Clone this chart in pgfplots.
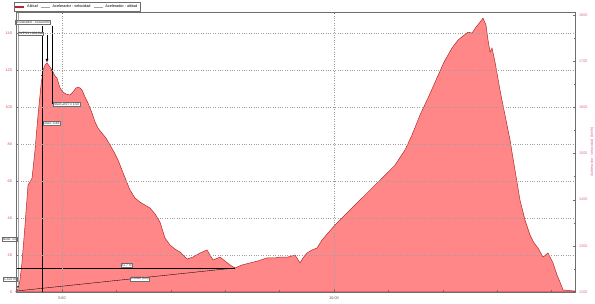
\documentclass[border=0pt]{standalone}
\usepackage{fontspec}
\setmainfont{Liberation Sans}
\usepackage{pgfplots}
\pgfplotsset{compat=1.18}
\definecolor{fillred}{RGB}{255,135,135}
\definecolor{linered}{RGB}{180,40,40}
\definecolor{leftlab}{RGB}{205,80,80}
\definecolor{rightlab}{RGB}{215,110,165}
\definecolor{axgray}{RGB}{110,110,110}
\pgfplotstableread{
m y
4.154 0.5
4.191 1.6
4.228 6.5
4.265 16.2
4.320 36.2
4.375 57.8
4.412 59.5
4.449 61.6
4.504 76.8
4.559 95.7
4.614 111.9
4.651 120.0
4.688 122.7
4.724 123.8
4.779 121.6
4.816 120.0
4.871 116.8
4.908 115.7
4.963 110.3
5.018 108.1
5.074 107.0
5.147 106.5
5.202 108.1
5.257 110.3
5.294 110.8
5.331 110.3
5.368 109.2
5.423 105.4
5.478 102.2
5.551 96.8
5.607 91.9
5.662 88.6
5.735 85.9
5.809 83.2
5.882 79.5
5.956 75.7
6.029 71.4
6.103 65.9
6.176 60.5
6.250 55.1
6.342 50.8
6.434 48.6
6.526 47.0
6.618 45.4
6.710 42.2
6.801 37.8
6.893 29.2
6.985 25.4
7.077 23.2
7.169 21.6
7.298 17.8
7.408 18.9
7.537 21.1
7.665 22.7
7.776 17.3
7.904 18.9
8.088 14.6
8.180 13.0
8.309 14.6
8.456 15.7
8.603 16.8
8.768 18.4
8.915 18.4
9.007 18.9
9.154 18.9
9.283 20.0
9.375 15.7
9.430 18.4
9.504 21.1
9.596 22.7
9.688 23.8
9.779 28.1
9.890 31.9
10.018 36.2
10.202 41.6
10.386 47.0
10.570 52.4
10.754 57.8
10.938 63.2
11.121 68.6
11.305 76.8
11.434 84.9
11.581 95.7
11.728 104.9
11.875 114.6
12.022 124.3
12.169 131.9
12.279 136.2
12.371 138.4
12.463 140.5
12.537 140.0
12.610 143.2
12.684 145.9
12.739 148.1
12.794 144.3
12.831 136.2
12.868 129.7
12.904 131.9
12.960 124.3
13.051 109.2
13.143 95.7
13.235 82.2
13.327 65.9
13.419 49.7
13.511 38.9
13.603 30.8
13.676 26.5
13.750 23.8
13.842 18.9
13.934 21.1
14.026 15.7
14.099 9.2
14.154 5.4
14.210 1.1
14.430 0.5
}\altitud
\begin{document}
\begin{tikzpicture}
\useasboundingbox (0pt,0pt) rectangle (595pt,304pt);
\begin{axis}[
  at={(16pt,12pt)}, anchor=south west, scale only axis,
  width=559pt, height=280pt,
  xmin=4.154, xmax=14.43, ymin=0, ymax=151.4,
  xtick={5,10}, xticklabels={5:00,10:00},
  minor xtick={6,7,8,9,11,12,13,14},
  ytick={0,20,...,140}, minor ytick={10,30,...,150},
  xtick pos=both, ytick pos=left,
  tick align=inside,
  major tick length=2.5pt, minor tick length=1.5pt,
  every tick/.style={axgray, line width=0.3pt},
  axis line style={axgray, line width=0.5pt},
  grid=major,
  major grid style={dotted, gray!75, line width=0.35pt},
  axis on top,
  clip=false,
  /pgf/number format/assume math mode=true,
  tick label style={font=\fontsize{3.8}{4}\selectfont},
  yticklabel style={leftlab, xshift=-0.5pt},
  xticklabel style={axgray!80!black, yshift=-1pt},
  legend style={at={(-0.0036,1.0357)}, anchor=north west,
    draw=axgray, line width=0.3pt, inner sep=0.5pt,
    font=\fontsize{3.8}{4}\selectfont,
    /tikz/every even column/.append style={column sep=1.5pt}},
  legend columns=3,
  legend image code/.code={\draw[#1] (0pt,0pt) -- (9pt,0pt);},
]
\addplot[fill=fillred, draw=linered, line width=0.5pt, forget plot] table[x=m, y=y] {\altitud} \closedcycle;
\addlegendimage{linered, line width=1.6pt}
\addlegendentry{Altitud\hspace{30pt}}
\addlegendimage{gray!70, line width=0.4pt}
\addlegendentry{Acelerador - velocidad\hspace{4pt}}
\addlegendimage{gray!70, line width=0.4pt}
\addlegendentry{Acelerador - altitud\hspace{6pt}}
% annotations
\draw[gray!70, line width=0.35pt] (axis cs:4.191,0) -- (axis cs:4.191,151.4);
\draw[black, line width=0.35pt] (axis cs:4.632,144) -- (axis cs:4.632,0);
\draw[black, line width=0.35pt, -latex] (axis cs:4.724,139) -- (axis cs:4.724,124);
\draw[black, line width=0.35pt] (axis cs:4.816,144) -- (axis cs:4.816,101.6);
\draw[black, line width=0.35pt] (axis cs:4.154,13.0) -- (axis cs:8.18,13.0);
\draw[black, line width=0.35pt] (axis cs:4.154,0.5) -- (axis cs:8.18,13.0);
\fill[black] (axis cs:4.19,2.8) circle (0.9pt);
\fill[black] (axis cs:4.632,117) circle (0.8pt);
\fill[black] (axis cs:4.816,120) circle (0.8pt);
\tikzset{ann/.style={draw=axgray, fill=white, line width=0.3pt, inner sep=0.6pt,
  font=\fontsize{3.3}{3.6}\selectfont, text=black!80}}
\node[ann] at (axis cs:4.467,145.9) {Acelerador - encuentro};
\node[ann, anchor=west] at (axis cs:4.19,139.7) {AVPSJ : 124.0 s};
\node[ann, anchor=west] at (axis cs:4.83,101.6) {Nivel: 0:07 x 1:02};
\node[ann, anchor=west] at (axis cs:4.645,91.4) {Nivel: 0:48};
\node[ann, anchor=east] at (axis cs:4.17,28.6) {Nivel: 22};
\node[ann, anchor=east] at (axis cs:4.17,7.0) {1.422 m};
\node[ann] at (axis cs:6.186,14.6) {22.7 m};
\node[ann] at (axis cs:6.434,7.0) {2.0402 (km)};
\end{axis}
\begin{axis}[
  at={(16pt,12pt)}, anchor=south west, scale only axis,
  width=559pt, height=280pt,
  xmin=4.154, xmax=14.43, ymin=1200, ymax=1806.5,
  axis x line=none, axis y line*=right,
  ytick={1200,1300,...,1800}, minor ytick={1250,1350,...,1750},
  tick align=inside,
  major tick length=2.5pt, minor tick length=1.5pt,
  every tick/.style={axgray, line width=0.3pt},
  axis line style={axgray, line width=0.5pt},
  /pgf/number format/assume math mode=true,
  /pgf/number format/1000 sep={},
  tick label style={font=\fontsize{3.8}{4}\selectfont},
  yticklabel style={rightlab, xshift=0.5pt},
  ylabel={Acelerador - velocidad (km/h)},
  every axis y label/.style={at={(rel axis cs:1.0305,0.5)}, rotate=90, anchor=center,
    font=\fontsize{3.8}{4}\selectfont, text=rightlab},
]
\end{axis}
\end{tikzpicture}
\end{document}
